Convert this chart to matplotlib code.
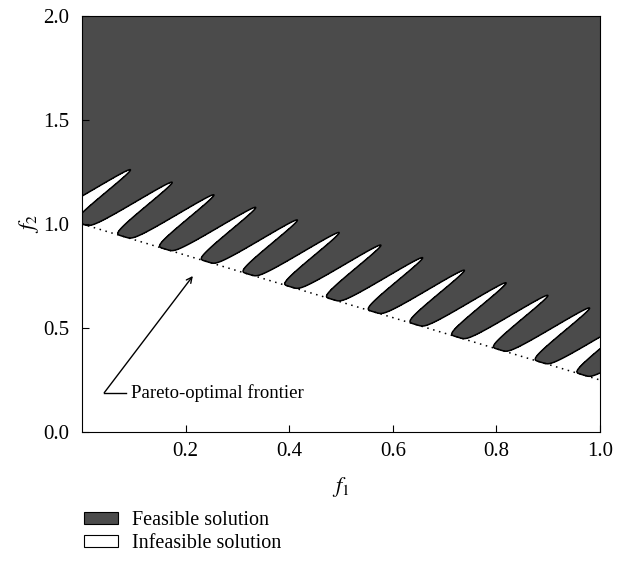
# Feasible / infeasible regions of a constrained two-objective test problem
import numpy as np
import matplotlib.pyplot as plt
from matplotlib.patches import Patch

plt.rcParams['font.family'] = ['Liberation Serif', 'DejaVu Serif']
plt.rcParams['mathtext.fontset'] = 'stix'

# constraint parameters
e = 1.0           # frontier passes through (0, e)
slope = 0.75      # frontier: f2 = e - slope * f1
tunnel_deg = 30   # tilt of the infeasible tunnels
a = 0.265         # tunnel length (distance from frontier to tip)
b = 10            # tunnels per unit length along the frontier
d = 6             # tunnel sharpness
u_min = -0.1      # no tunnels start left of this

xticks = [0.2, 0.4, 0.6, 0.8, 1.0]
yticks = [0.0, 0.5, 1.0, 1.5, 2.0]
legend_labels = ['Feasible solution', 'Infeasible solution']
annot_text = 'Pareto-optimal frontier'
annot_tip = (0.214, 0.75)
annot_elbow = (0.043, 0.189)

dark = '#4b4b4b'

f1 = np.linspace(0, 1, 1600)
f2 = np.linspace(0, 2, 2400)
F1, F2 = np.meshgrid(f1, f2)
phi = np.arctan(slope)
psi = np.radians(tunnel_deg)
n = np.cos(phi) * (F2 - e) + np.sin(phi) * F1
u = np.cos(psi) * F1 - np.sin(psi) * (F2 - e)
bump = a * np.abs(np.sin(b * np.pi * u)) ** d
bump[u < u_min] = 0
c = n - bump

fig = plt.figure(figsize=(6.25, 5.65), dpi=100)
ax = fig.add_axes([82 / 625, 1 - 432 / 565, 518 / 625, 416 / 565])

ax.contourf(F1, F2, c, levels=[0, c.max() + 1], colors=[dark])
ax.contour(F1, F2, c, levels=[0], colors='k', linewidths=1.1)

# Pareto-optimal frontier
ax.plot([0, 1], [e, e - slope], color='k', ls=(0, (1, 3)), lw=1.1)

# annotation
ax.plot([annot_elbow[0], 0.085], [annot_elbow[1], annot_elbow[1]], color='k', lw=1)
ax.annotate('', xy=annot_tip, xytext=annot_elbow,
            arrowprops=dict(arrowstyle='->', color='k', lw=1, shrinkA=0, shrinkB=0))
ax.text(0.094, annot_elbow[1], annot_text, va='center', ha='left', fontsize=13.5)

ax.set_xlim(0, 1)
ax.set_ylim(0, 2)
ax.set_xticks(xticks)
ax.set_yticks(yticks)
ax.set_xticklabels([f'{v:.1f}' for v in xticks])
ax.set_yticklabels([f'{v:.1f}' for v in yticks])
ax.tick_params(direction='in', length=5, labelsize=15, top=False, right=False)
ax.tick_params(axis='x', pad=7)
ax.tick_params(axis='y', pad=9)
ax.set_xlabel('$f_1$', fontsize=16, labelpad=10)
ax.set_ylabel('$f_2$', fontsize=16, labelpad=2)

handles = [Patch(facecolor=dark, edgecolor='k', lw=0.8),
           Patch(facecolor='white', edgecolor='k', lw=0.8)]
fig.legend(handles, legend_labels, loc='upper left',
           bbox_to_anchor=(84 / 625, 1 - 511 / 565), frameon=False,
           fontsize=14.5, handlelength=1.7, handleheight=0.55,
           handletextpad=0.7, labelspacing=0.2, borderpad=0, borderaxespad=0)

fig.savefig('out.png', dpi=100)
